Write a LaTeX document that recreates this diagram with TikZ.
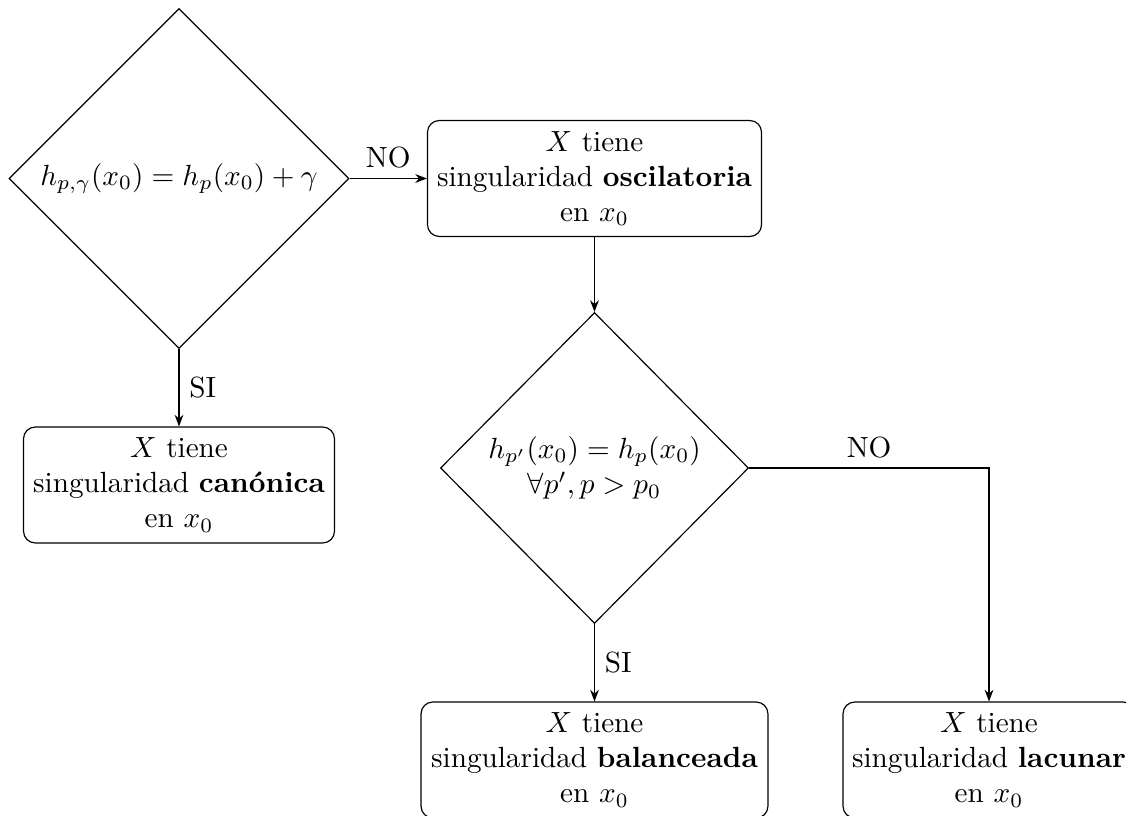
\documentclass[tikz,border=0pt]{standalone}
\usetikzlibrary{shapes.geometric,arrows.meta}
\begin{document}
\begin{tikzpicture}[x=0.3425pt,y=-0.3425pt,
  decision/.style={draw,diamond,aspect=1,inner sep=0pt,align=center},
  outcome/.style={draw,rectangle,rounded corners=4pt,align=center,inner sep=2pt,minimum height=39.7pt},
  flow/.style={-{Stealth[length=4pt,width=3pt]}}]
\useasboundingbox (0,0) rectangle (1126,816);
\node[decision,minimum width=116.4pt,minimum height=116.4pt] (d1) at (179,178.5) {$h_{p,\gamma}(x_0)=h_p(x_0)+\gamma$};
\node[outcome,minimum width=114.4pt] (osc) at (594.5,178.5) {$X$ tiene\\singularidad \textbf{oscilatoria}\\en $x_0$};
\node[outcome,minimum width=106.5pt] (can) at (179,485) {$X$ tiene\\singularidad \textbf{canónica}\\en $x_0$};
\node[decision,minimum width=105.5pt,minimum height=106.5pt] (d2) at (594.5,468) {$h_{p'}(x_0)=h_p(x_0)$\\$\forall p',p>p_0$};
\node[outcome,minimum width=118.8pt] (bal) at (594.5,760) {$X$ tiene\\singularidad \textbf{balanceada}\\en $x_0$};
\node[outcome,minimum width=100pt] (lac) at (989,760) {$X$ tiene\\singularidad \textbf{lacunar}\\en $x_0$};
\draw[flow] (d1.east) -- node[above] {NO} (osc.west);
\draw[flow] (d1.south) -- node[right] {SI} (can.north);
\draw[flow] (osc.south) -- (d2.north);
\draw[flow] (d2.south) -- node[right] {SI} (bal.north);
\draw[flow] (d2.east) -| node[pos=0.25,above] {NO} (lac.north);
\end{tikzpicture}
\end{document}
